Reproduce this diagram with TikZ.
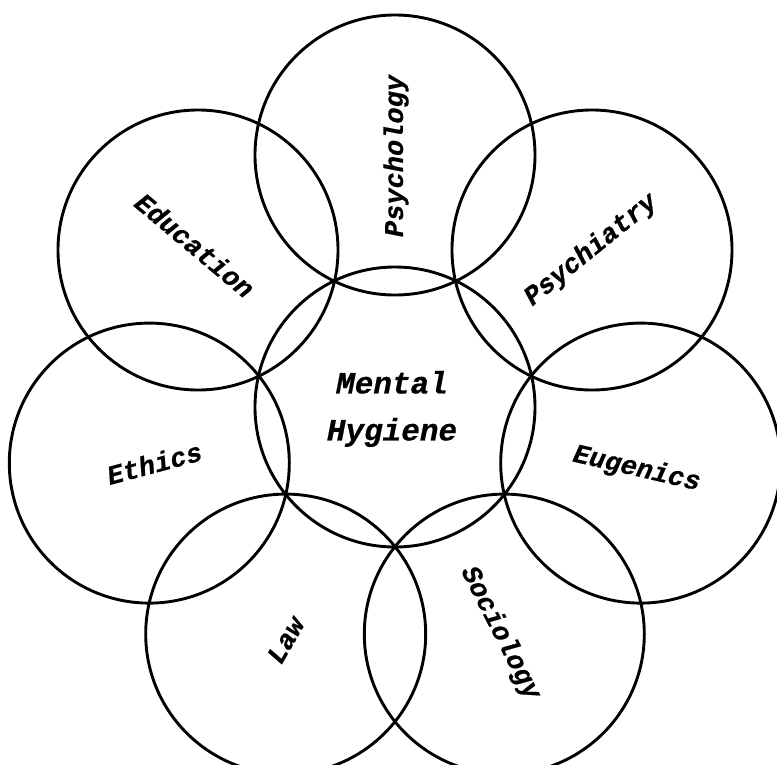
\documentclass[tikz,border=0pt]{standalone}
\usepackage{fontspec}
\newfontfamily\lbl[BoldItalicFeatures={FakeBold=0.6}]{Liberation Mono}
\usetikzlibrary{calc}
\begin{document}
\begin{tikzpicture}[x=1pt,y=-1pt,
  ring/.style={draw, circle, line width=2.9pt, minimum size=280pt, inner sep=0pt},
  lab/.style={font=\lbl\bfseries\itshape\fontsize{27}{30}\selectfont, inner sep=0pt},
  biglab/.style={font=\lbl\bfseries\itshape\fontsize{31}{47}\selectfont, align=center, inner sep=0pt}]
\useasboundingbox (0,0) rectangle (777,764);
\node[ring] (mh)  at (395,407) {};
\node[ring] (psy) at (395,155) {};
\node[ring] (pst) at (592,250) {};
\node[ring] (eug) at (640.7,463.1) {};
\node[ring] (soc) at (504.3,634.1) {};
\node[ring] (law) at (285.7,634.1) {};
\node[ring] (eth) at (149.3,463.1) {};
\node[ring] (edu) at (198,250) {};
\node[biglab] (tmh) at ($(mh)+(-3,2)$) {Mental\\Hygiene};
\node[lab, rotate=90] (tpsy) at ($(psy)+(1,1)$) {Psychology};
\node[lab, rotate=39] (tpst) at ($(pst)+(-1,0)$) {Psychiatry};
\node[lab, rotate=-13] (teug) at ($(eug)+(-4,6)$) {Eugenics};
\node[lab, rotate=-63] (tsoc) at ($(soc)+(-4,-1)$) {Sociology};
\node[lab, rotate=60] (tlaw) at ($(law)+(0,6)$) {Law};
\node[lab, rotate=15] (teth) at ($(eth)+(5,0)$) {Ethics};
\node[lab, rotate=-40] (tedu) at ($(edu)+(-3,-5)$) {Education};
\end{tikzpicture}
\end{document}
